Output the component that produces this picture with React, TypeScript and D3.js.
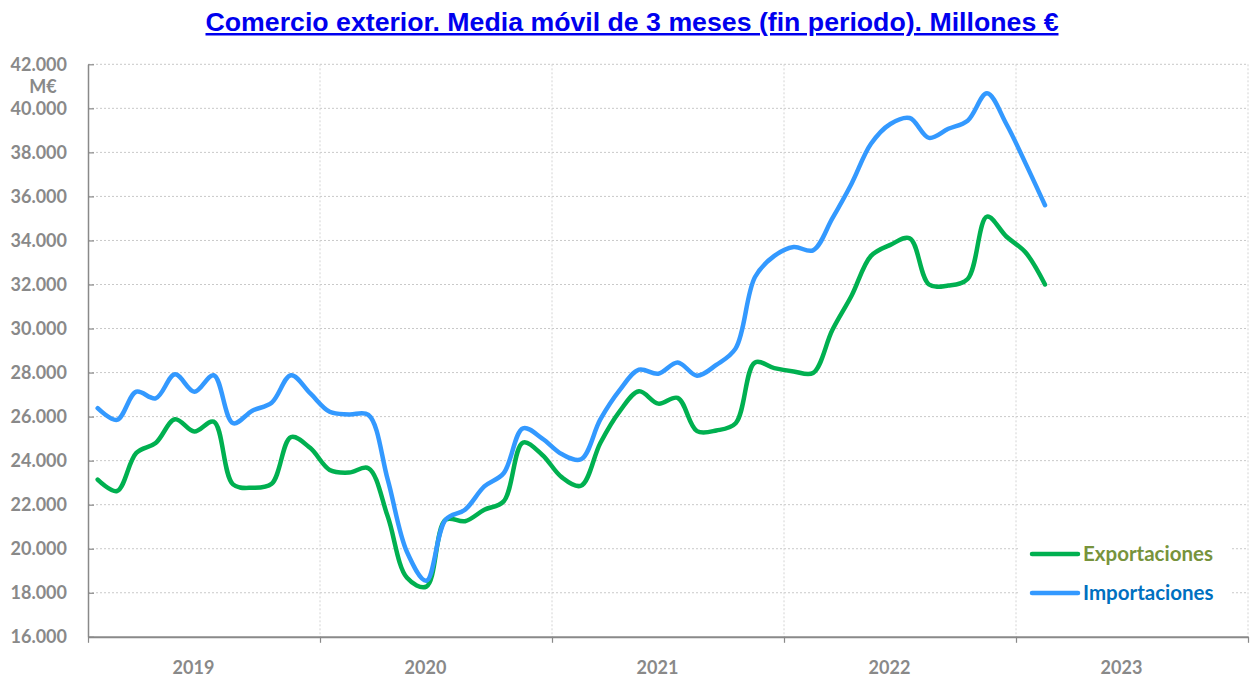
import React, { useEffect, useRef } from 'react';
import * as d3 from 'd3';

// monthly points, Jan 2019 .. Feb 2023 (M€, 3-month moving average)
const months = d3.range(50);
const years = ['2019', '2020', '2021', '2022', '2023'];

const exportaciones = [
  23140, 22620, 24350, 24800, 25880, 25320, 25770, 22920, 22770, 22950, 25070, 24570,
  23580, 23460, 23660, 21470, 18680, 18280, 21320, 21250, 21770, 22150, 24820, 24260,
  23250, 22860, 24800, 26240, 27150, 26590, 26850, 25340, 25370, 25700, 28460, 28200,
  28050, 27980, 29930, 31500, 33300, 33800, 34100, 32000, 31950, 32250, 35080, 34180,
  33450, 32000,
];

const importaciones = [
  26380, 25850, 27130, 26830, 27920, 27130, 27880, 25700, 26270, 26630, 27880, 27050,
  26220, 26100, 26080, 23150, 19850, 18550, 21320, 21770, 22830, 23430, 25470, 25000,
  24300, 24060, 25870, 27200, 28130, 27950, 28460, 27860, 28350, 29100, 32340, 33300,
  33700, 33550, 35000, 36590, 38390, 39290, 39560, 38660, 39070, 39440, 40680, 39290,
  37490, 35600,
];

const yTicks = d3.range(16000, 42001, 2000);

const series = [
  { name: 'Exportaciones', values: exportaciones, color: '#00b050', text: '#77933c' },
  { name: 'Importaciones', values: importaciones, color: '#3399ff', text: '#0070c0' },
];

const App = () => {
  const chart = useRef<SVGSVGElement>(null);

  useEffect(() => {
    const width = 1250;
    const height = 680;
    const left = 88;
    const right = 1248;
    const top = 64.3;
    const bottom = 636.8;
    const grey = '#898989';
    const font = 'Lato, "Open Sans", sans-serif';

    const svg = d3.select(chart.current);
    svg.selectAll('*').remove();
    svg.attr('width', width).attr('height', height);

    const x = d3.scaleLinear().domain([0, 60]).range([left, right]);
    const xYear = d3.scaleBand().domain(years).range([left, right]);
    const y = d3.scaleLinear().domain([16000, 42000]).range([bottom, top]);

    const fmt = d3
      .formatLocale({ decimal: ',', thousands: '.', grouping: [3], currency: ['', '€'] })
      .format(',.0f');

    // grid
    svg
      .append('g')
      .selectAll('line')
      .data(yTicks.slice(1))
      .enter()
      .append('line')
      .attr('x1', left)
      .attr('x2', right)
      .attr('y1', (d) => y(d))
      .attr('y2', (d) => y(d))
      .attr('stroke', '#c9c9c9')
      .attr('stroke-width', 1)
      .attr('stroke-dasharray', '2,2');

    svg
      .append('g')
      .selectAll('line')
      .data([12, 24, 36, 48, 60])
      .enter()
      .append('line')
      .attr('x1', (d) => x(d))
      .attr('x2', (d) => x(d))
      .attr('y1', top)
      .attr('y2', bottom)
      .attr('stroke', '#d4d4d4')
      .attr('stroke-width', 1)
      .attr('stroke-dasharray', '2,2');

    // legend box hides the grid behind it
    svg
      .append('rect')
      .attr('x', 1018)
      .attr('y', 530)
      .attr('width', 212)
      .attr('height', 82)
      .attr('fill', '#fff');

    // y axis
    const yAxis = svg
      .append('g')
      .attr('transform', `translate(${left},0)`)
      .call(
        d3
          .axisLeft(y)
          .tickValues(yTicks)
          .tickFormat((d) => fmt(d as number))
          .tickSizeInner(-6)
          .tickSizeOuter(0)
          .tickPadding(21)
      );
    yAxis.select('.domain').attr('stroke', grey).attr('stroke-width', 1.5);
    yAxis.selectAll('.tick line').attr('stroke', grey).attr('stroke-width', 1.2);
    yAxis
      .selectAll('.tick text')
      .attr('fill', grey)
      .style('font-family', font)
      .style('font-weight', 700)
      .style('font-size', '18px');

    svg
      .append('text')
      .attr('x', 43)
      .attr('y', 87)
      .attr('dy', '0.35em')
      .attr('text-anchor', 'middle')
      .attr('fill', grey)
      .style('font-family', font)
      .style('font-weight', 700)
      .style('font-size', '18px')
      .text('M€');

    // x axis
    const xAxis = svg
      .append('g')
      .attr('transform', `translate(0,${bottom})`)
      .call(
        d3
          .axisBottom(x)
          .tickValues([0, 12, 24, 36, 48, 60])
          .tickFormat(() => '')
          .tickSizeInner(6)
          .tickSizeOuter(0)
      );
    xAxis.select('.domain').attr('stroke', grey).attr('stroke-width', 2);
    xAxis.selectAll('.tick line').attr('stroke', grey).attr('stroke-width', 1.2);

    svg
      .append('g')
      .selectAll('text')
      .data(years)
      .enter()
      .append('text')
      .attr('x', (d) => (xYear(d) as number) + xYear.bandwidth() / 2 - 10.5)
      .attr('y', 674)
      .attr('text-anchor', 'middle')
      .attr('fill', grey)
      .style('font-family', font)
      .style('font-weight', 700)
      .style('font-size', '18px')
      .text((d) => d);

    // lines
    const line = d3
      .line<number>()
      .x((d, i) => x(months[i] + 0.5))
      .y((d) => y(d))
      .curve(d3.curveCatmullRom.alpha(0.5));

    svg
      .append('g')
      .selectAll('path')
      .data(series)
      .enter()
      .append('path')
      .attr('d', (d) => line(d.values))
      .attr('fill', 'none')
      .attr('stroke', (d) => d.color)
      .attr('stroke-width', 4.5)
      .attr('stroke-linejoin', 'round')
      .attr('stroke-linecap', 'round');

    // legend
    const legend = svg
      .append('g')
      .selectAll('g')
      .data(series)
      .enter()
      .append('g')
      .attr('transform', (d, i) => `translate(1032,${554 + i * 39})`);
    legend
      .append('line')
      .attr('x1', 0)
      .attr('x2', 46)
      .attr('stroke', (d) => d.color)
      .attr('stroke-width', 4.5)
      .attr('stroke-linecap', 'round');
    legend
      .append('text')
      .attr('x', 51)
      .attr('dy', '0.35em')
      .attr('fill', (d) => d.text)
      .style('font-family', font)
      .style('font-weight', 700)
      .style('font-size', '20.5px')
      .text((d) => d.name);

    // title
    svg
      .append('text')
      .attr('x', 632)
      .attr('y', 31)
      .attr('text-anchor', 'middle')
      .attr('textLength', 853)
      .attr('lengthAdjust', 'spacingAndGlyphs')
      .attr('fill', '#0000ee')
      .style('font-family', '"Liberation Sans", Arial, sans-serif')
      .style('font-weight', 700)
      .style('font-size', '25px')
      .style('text-decoration', 'underline')
      .text('Comercio exterior. Media móvil de 3 meses (fin periodo). Millones €');
  });

  return (
    <div style={{ position: 'absolute', left: 0, top: 0 }}>
      <svg ref={chart}></svg>
    </div>
  );
};

export default App;
